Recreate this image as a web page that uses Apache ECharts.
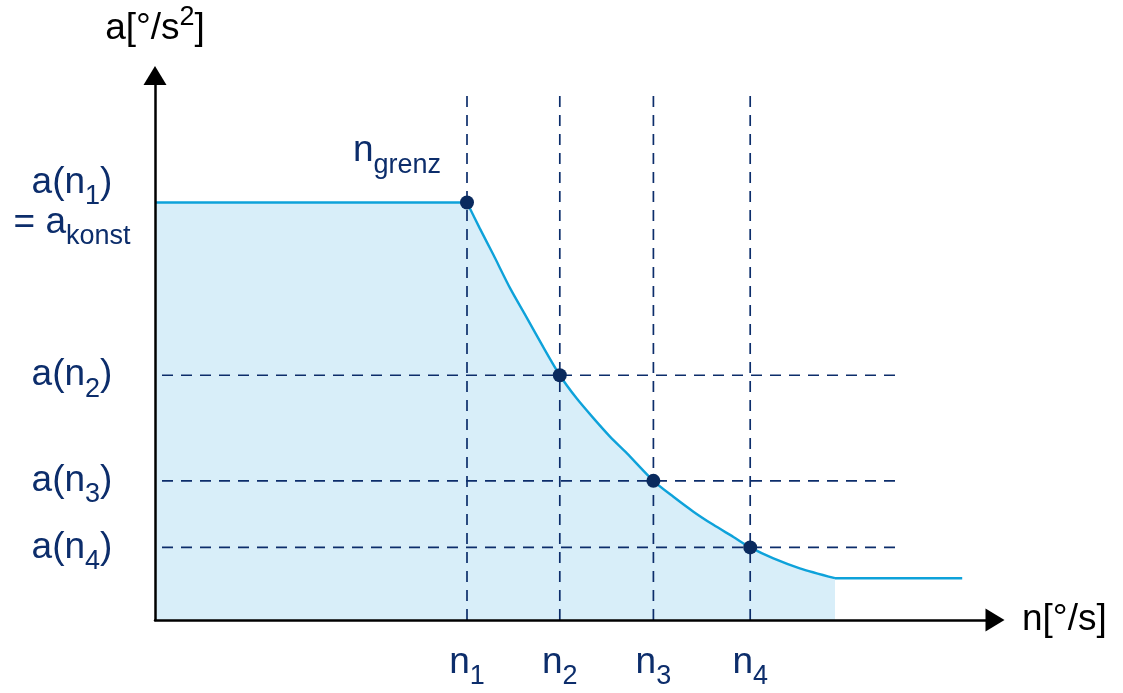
<!DOCTYPE html>
<html>
<head>
<meta charset="utf-8">
<script src="https://cdn.jsdelivr.net/npm/echarts@6/dist/echarts.min.js"></script>
<style>
html, body { margin: 0; padding: 0; background: #fff; }
#chart { width: 1123px; height: 693px; }
</style>
</head>
<body>
<div id="chart"></div>
<script>
// Kennlinie: a(n) konstant bis n_grenz, danach fallend
const nVals = [39.0, 50.6, 62.3, 74.4];   // n1..n4
const aVals = [75.9, 44.5, 25.3, 13.2];   // a(n1)..a(n4)
const nSubs = ['1', '2', '3', '4'];

const plateauX = [0, 39.0];
const plateauY = [75.9, 75.9];
const curveX = [39.0, 40.6, 42.3, 44.4, 46.5, 48.5, 50.6, 52.7, 54.8, 56.9, 59.0,
                62.3, 64.8, 67.3, 69.8, 72.3, 74.4, 77.3, 80.6, 85.0];
const curveY = [75.9, 71.2, 66.4, 60.3, 54.9, 49.7, 44.5, 40.3, 36.7, 33.3, 30.3,
                25.3, 22.4, 19.7, 17.3, 15.1, 13.2, 11.2, 9.4, 7.6];
const tailX = [85.0, 100.9];
const tailY = [7.6, 7.6];

const vDashTop = 95.5;   // obere Grenze der senkrechten Hilfslinien
const hDashEnd = 92.5;   // rechte Grenze der waagrechten Hilfslinien

const navy = '#0c2d6b';
const lineBlue = '#0ea2da';
const fillBlue = '#d8eef9';
const font = '"Liberation Sans", Arial, sans-serif';

const rich = {
    m: { fontSize: 37, color: navy, fontFamily: font },
    s: { fontSize: 27, color: navy, fontFamily: font, padding: [28, 0, 0, 0] }
};
// engere Zeilen fuer die zweizeilige Beschriftung an der y-Achse
const richY = {
    m: { fontSize: 37, color: navy, fontFamily: font, lineHeight: 40 },
    s: { fontSize: 27, color: navy, fontFamily: font, lineHeight: 40, padding: [28, 0, 0, 0] }
};

const chart = echarts.init(document.getElementById('chart'));

const pairs = (xs, ys) => xs.map((x, i) => [x, ys[i]]);

const dashSeries = [];
nVals.forEach(n => {
    dashSeries.push({ type: 'line', data: [[n, 0], [n, vDashTop]], dashOffset: 0 });
});
aVals.slice(1).forEach(a => {
    dashSeries.push({ type: 'line', data: [[0, a], [hDashEnd, a]], dashOffset: 12 });
});
dashSeries.forEach(s => {
    s.symbol = 'none';
    s.silent = true;
    s.z = 3;
    s.lineStyle = { color: navy, width: 1.7, type: [11, 8], dashOffset: s.dashOffset };
    delete s.dashOffset;
});

var option = {
    animation: false,
    grid: { left: 155, right: 128, top: 75.5, bottom: 73 },
    xAxis: {
        type: 'value',
        min: 0,
        max: 105,
        z: 5,
        name: 'n[°/s]',
        nameLocation: 'end',
        nameGap: 27,
        nameTextStyle: { fontSize: 37, color: '#000', fontFamily: font, align: 'left', verticalAlign: 'middle' },
        axisLine: { show: true, symbol: ['none', 'triangle'], symbolSize: [23, 19], lineStyle: { color: '#000', width: 2.5 } },
        axisTick: { show: false },
        splitLine: { show: false },
        axisLabel: {
            customValues: nVals,
            margin: 15,
            formatter: v => {
                const i = nVals.indexOf(v);
                return '{m|n}{s|' + nSubs[i] + '}';
            },
            rich: rich
        }
    },
    yAxis: {
        type: 'value',
        min: 0,
        max: 99,
        z: 5,
        name: 'a[°/s{sup|2}]',
        nameLocation: 'end',
        nameGap: 22,
        nameTextStyle: {
            fontSize: 37, color: '#000', fontFamily: font,
            rich: { sup: { fontSize: 27, color: '#000', fontFamily: font, padding: [0, 0, 22, 0] } }
        },
        axisLine: { show: true, symbol: ['none', 'triangle'], symbolSize: [23, 19], lineStyle: { color: '#000', width: 2.5 } },
        axisTick: { show: false },
        splitLine: { show: false },
        axisLabel: {
            customValues: aVals,
            margin: 83,
            align: 'center',
            formatter: v => {
                const i = aVals.indexOf(v);
                if (i === 0) {
                    return '{m|a(n}{s|1}{m|)}\n{m|= a}{s|konst}';
                }
                return '{m|a(n}{s|' + nSubs[i] + '}{m|)}';
            },
            rich: richY
        }
    },
    series: [
        {
            type: 'line',
            data: pairs(plateauX, plateauY),
            symbol: 'none',
            z: 2,
            lineStyle: { color: lineBlue, width: 2.4 },
            areaStyle: { color: fillBlue, opacity: 1 }
        },
        {
            type: 'line',
            data: pairs(curveX, curveY),
            smooth: 0.25,
            symbol: 'none',
            z: 2,
            lineStyle: { color: lineBlue, width: 2.4 },
            areaStyle: { color: fillBlue, opacity: 1 }
        },
        {
            type: 'line',
            data: pairs(tailX, tailY),
            symbol: 'none',
            z: 2,
            lineStyle: { color: lineBlue, width: 2.4 }
        },
        ...dashSeries,
        {
            type: 'scatter',
            symbolSize: 14,
            z: 6,
            itemStyle: { color: '#0a2a5e', opacity: 1 },
            data: nVals.map((n, i) => {
                const item = { value: [n, aVals[i]] };
                if (i === 0) {
                    item.label = {
                        show: true,
                        position: [-107, -72],
                        formatter: '{m|n}{s|grenz}',
                        rich: rich
                    };
                }
                return item;
            })
        }
    ]
};
chart.setOption(option);
</script>
</body>
</html>
